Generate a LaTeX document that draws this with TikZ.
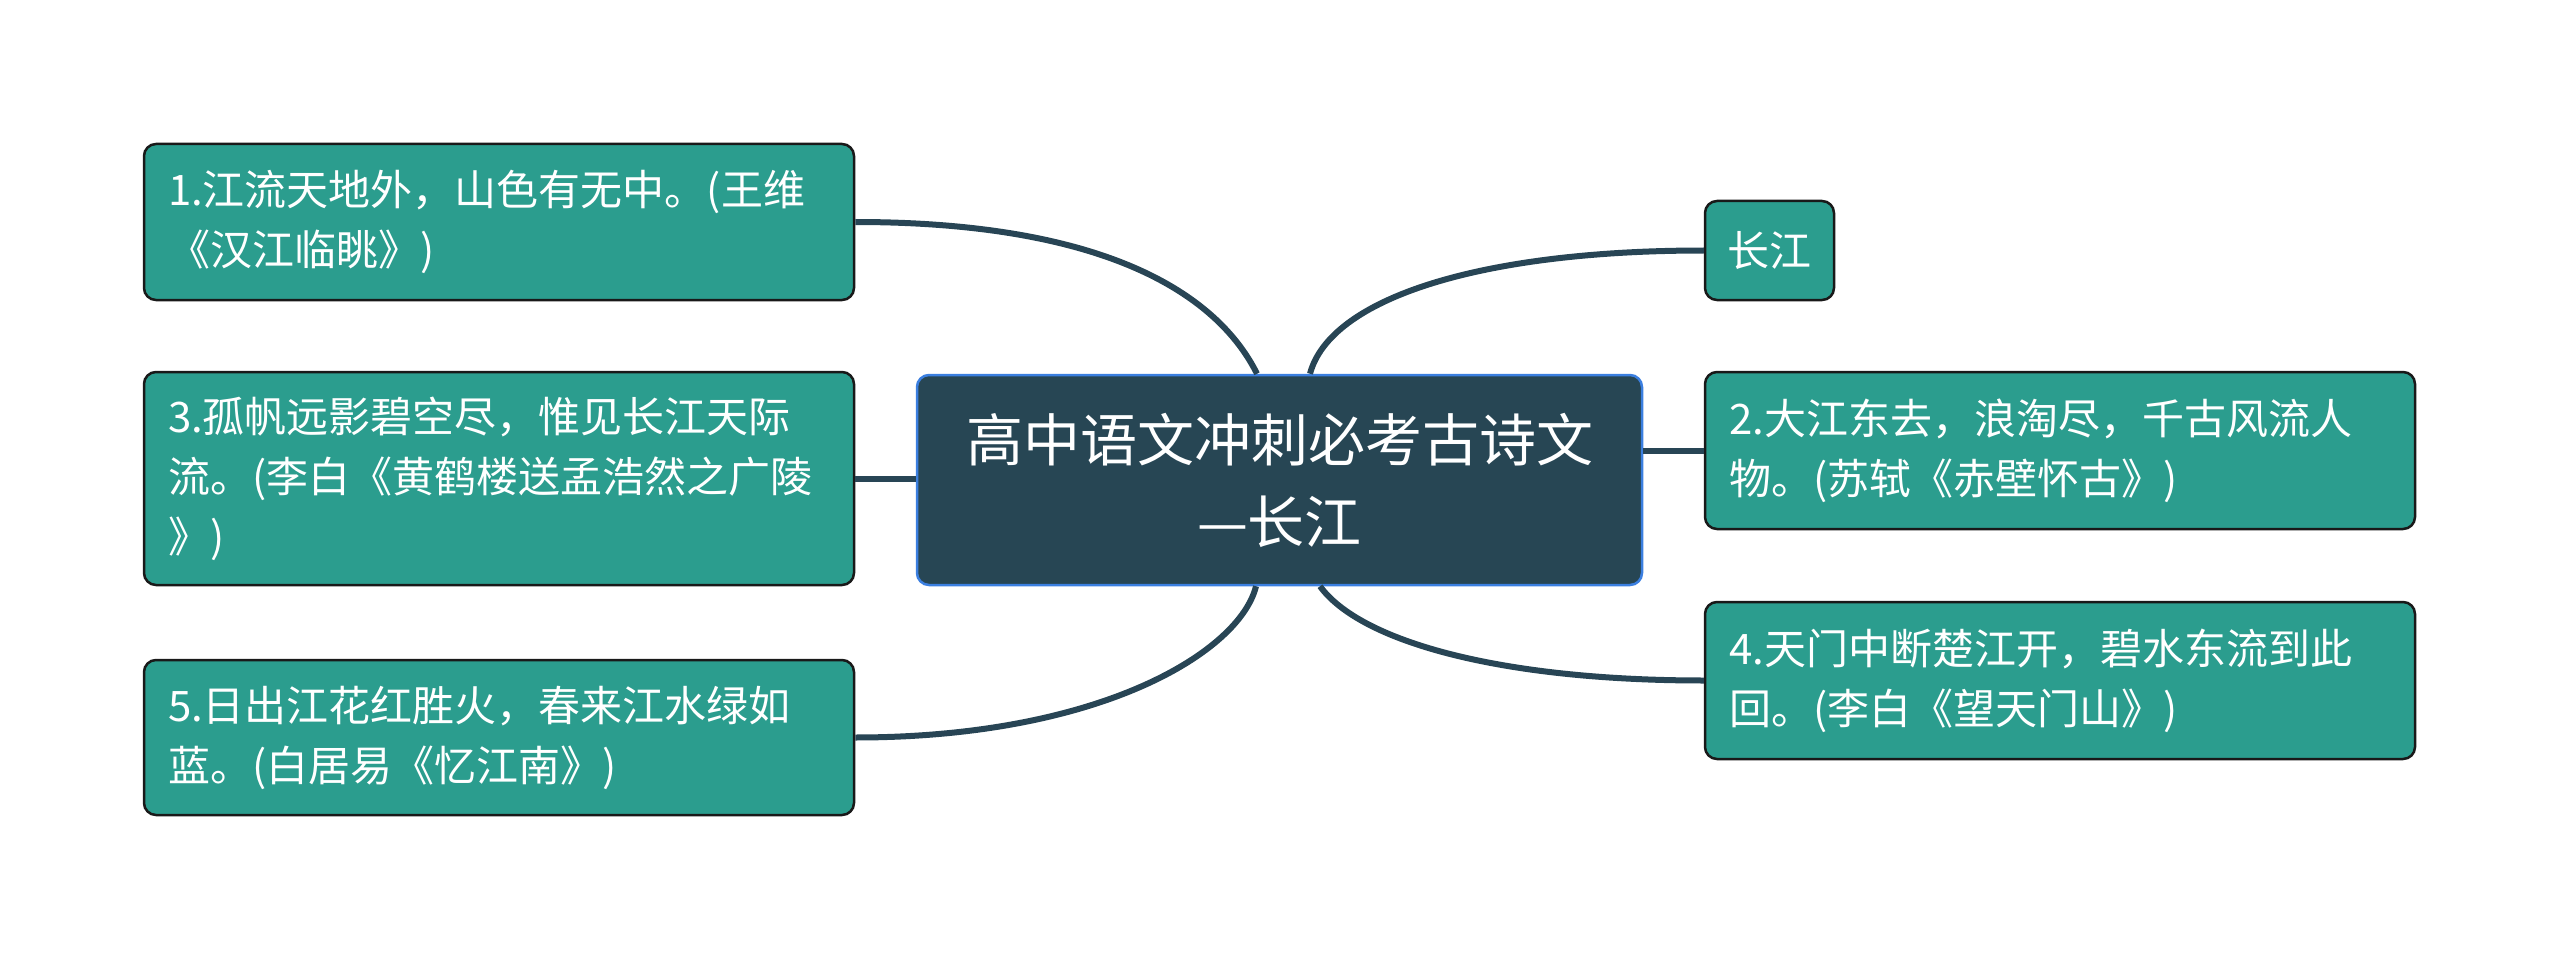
\documentclass[tikz,border=0pt]{standalone}
\usepackage{fontspec}
\setmainfont{Noto Sans CJK SC}
\usepackage{xcolor}
\usepackage{tikz}
\usetikzlibrary{positioning, arrows.meta, calc}
\definecolor{riverteal}{HTML}{2B9D8E}
\definecolor{rootslate}{HTML}{274654}
\definecolor{rootblue}{HTML}{3B7FE0}
\definecolor{linkslate}{HTML}{284555}

\tikzset{
    leafbox/.style={fill=riverteal, draw=black!90, line width=2.5pt, rounded corners=12pt,
          text=white, font=\fontsize{42pt}{60pt}\selectfont, inner sep=0pt},
    poembox/.style={leafbox, minimum width=710pt, text width=662pt, align=left},
    rootbox/.style={fill=rootslate, draw=rootblue, line width=2.5pt, rounded corners=12pt,
          text=white, font=\fontsize{57pt}{82pt}\selectfont, minimum width=725pt,
          minimum height=210pt, text width=700pt, align=center, inner sep=0pt},
    link/.style={draw=linkslate, line width=6pt}
}

\begin{document}
\begin{tikzpicture}[x=1pt, y=-1pt]
    \useasboundingbox (0,0) rectangle (2560,960);

    \node[rootbox] (root) at (1279.5,480) {高中语文冲刺必考古诗文\\—长江};

    \node[poembox, minimum height=156pt] (p1) at (499,222)
        {1.江流天地外，山色有无中。(王维\\《汉江临眺》)};
    \node[poembox, minimum height=213pt] (p3) at (499,478.5)
        {3.孤帆远影碧空尽，惟见长江天际\\流。(李白《黄鹤楼送孟浩然之广陵\\》)};
    \node[poembox, minimum height=155pt] (p5) at (499,737.5)
        {5.日出江花红胜火，春来江水绿如\\蓝。(白居易《忆江南》)};

    \node[leafbox, minimum width=129pt, minimum height=99pt] (river) at (1769.5,250.5) {长江};
    \node[poembox, minimum height=157pt] (p2) at (2060,450.5)
        {2.大江东去，浪淘尽，千古风流人\\物。(苏轼《赤壁怀古》)};
    \node[poembox, minimum height=157pt] (p4) at (2060,680.5)
        {4.天门中断楚江开，碧水东流到此\\回。(李白《望天门山》)};

    % branches
    \draw[link] (p1.east) .. controls +(250,0) and +(-40,-80) .. ([xshift=-22.5pt]root.north);
    \draw[link] (river.west) .. controls +(-225,0) and +(20,-75) .. ([xshift=30.5pt]root.north);
    \draw[link] (p3.east) -- (p3.east -| root.west);
    \draw[link] (p2.west) -- (p2.west -| root.east);
    \draw[link] (p5.east) .. controls +(246,0) and +(-16,65) .. ([xshift=-23.5pt]root.south);
    \draw[link] (p4.west) .. controls +(-205,0) and +(40,55) .. ([xshift=40.5pt]root.south);
\end{tikzpicture}
\end{document}
